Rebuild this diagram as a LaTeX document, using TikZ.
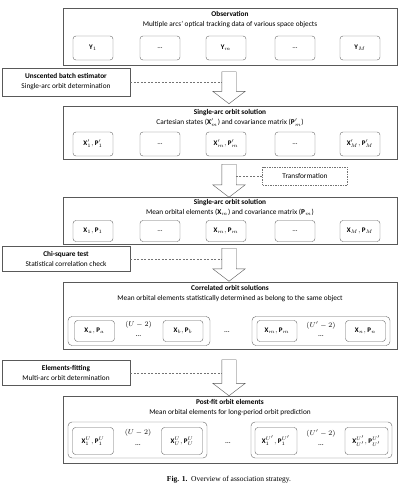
\documentclass[tikz,border=0pt]{standalone}
\usepackage{fontspec}
\setmainfont{Carlito}
\newfontfamily\capfont{Liberation Serif}
\usetikzlibrary{shapes.arrows}

\tikzset{
  panel/.style={draw=black!65, line width=0.7pt, minimum width=334pt, inner sep=0pt},
  head/.style={align=center, anchor=north, inner sep=0pt, font=\fontsize{7.3}{10.5}\selectfont},
  cell/.style={draw=black!60, rounded corners=3pt, minimum width=40pt, minimum height=24pt, inner sep=1pt, font=\fontsize{7}{8}\selectfont},
  group/.style={draw=black!60, rounded corners=4pt, inner sep=0pt},
  side/.style={draw=black!65, line width=0.6pt, align=center, minimum width=128pt, inner sep=1pt, font=\fontsize{7.3}{10}\selectfont},
  bigarrow/.style={single arrow, draw=black!65, fill=white, shape border rotate=270, minimum width=32pt, single arrow head extend=9pt, single arrow tip angle=105, inner xsep=7pt, inner ysep=0pt},
  link/.style={draw=black!55, dash pattern=on 2pt off 1.5pt},
  dashbox/.style={draw=black!55, dash pattern=on 1.5pt off 1pt, minimum width=85pt, minimum height=18pt, font=\fontsize{7.3}{9}\selectfont},
  note/.style={inner sep=0pt, font=\fontsize{7.5}{8}\selectfont}
}

\begin{document}
\begin{tikzpicture}[x=1pt, y=-1pt]
			\useasboundingbox (0,0) rectangle (409,493);
			%%%%% START %%%%%
			
			% observation
			\node[panel, minimum height=57pt] (obs) at (230,37) {};
			\node[head] (obsT) at (230,11) {\textbf{Observation}\\Multiple arcs’ optical tracking data of various space objects};
			\node[cell] (obs1) at (93,48) {$\mathbf{Y}_1$};
			\node[cell] (obs2) at (160,48) {\ldots};
			\node[cell] (obs3) at (226,48) {$\mathbf{Y}_m$};
			\node[cell] (obs4) at (295,48) {\ldots};
			\node[cell] (obs5) at (360,48) {$\mathbf{Y}_M$};
			
			% unscented batch estimator
			\node[side, minimum height=28pt] (ube) at (66,82) {\textbf{Unscented batch estimator}\\Single-arc orbit determination};
			\node[bigarrow, minimum height=32pt] (arr1) at (229,85) {};
			\draw[link] (ube.east) -- (ube.east -| arr1.west);
			
			% cartesian solution
			\node[panel, minimum height=53pt] (sol1) at (230,133) {};
			\node[head] (sol1T) at (230,109) {\textbf{Single-arc orbit solution}\\Cartesian states ($\mathbf{X}'_m$) and covariance matrix ($\mathbf{P}'_m$)};
			\node[cell] (sol11) at (93,144) {$\mathbf{X}'_1, \mathbf{P}'_1$};
			\node[cell] (sol12) at (160,144) {\ldots};
			\node[cell] (sol13) at (226,144) {$\mathbf{X}'_m, \mathbf{P}'_m$};
			\node[cell] (sol14) at (295,144) {\ldots};
			\node[cell] (sol15) at (360,144) {$\mathbf{X}'_M, \mathbf{P}'_M$};
			
			% transformation
			\node[bigarrow, minimum height=33pt] (arr2) at (229,178) {};
			\node[dashbox] (trf) at (305,176) {Transformation};
			\draw[link] (trf.west) -- (trf.west -| arr2.east);
			
			% mean elements solution
			\node[panel, minimum height=47pt] (sol2) at (230,221) {};
			\node[head] (sol2T) at (230,199) {\textbf{Single-arc orbit solution}\\Mean orbital elements ($\mathbf{X}_m$) and covariance matrix ($\mathbf{P}_m$)};
			\node[cell, minimum height=21pt] (sol21) at (93,231) {$\mathbf{X}_1, \mathbf{P}_1$};
			\node[cell, minimum height=21pt] (sol22) at (160,231) {\ldots};
			\node[cell, minimum height=21pt] (sol23) at (226,231) {$\mathbf{X}_m, \mathbf{P}_m$};
			\node[cell, minimum height=21pt] (sol24) at (295,231) {\ldots};
			\node[cell, minimum height=21pt] (sol25) at (360,231) {$\mathbf{X}_M, \mathbf{P}_M$};
			
			% chi-square test
			\node[side, minimum height=25pt] (chi) at (66,259) {\textbf{Chi-square test}\\Statistical correlation check};
			\node[bigarrow, minimum height=33pt] (arr3) at (229,262) {};
			\draw[link] (chi.east) -- (chi.east -| arr3.west);
			
			% correlated solutions
			\node[panel, minimum height=67pt] (cor) at (230,315.5) {};
			\node[head] (corT) at (230,285) {\textbf{Correlated orbit solutions}\\Mean orbital elements statistically determined as belong to the same object};
			\node[group, minimum width=142pt, minimum height=29pt] (corL) at (139,331) {};
			\node[group, minimum width=138pt, minimum height=29pt] (corR) at (321,331) {};
			\node[cell, minimum height=21pt] (cor1) at (94.5,331) {$\mathbf{X}_a, \mathbf{P}_a$};
			\node[cell, minimum height=21pt] (cor2) at (183,331) {$\mathbf{X}_b, \mathbf{P}_b$};
			\node[cell, minimum height=21pt] (cor3) at (277,331) {$\mathbf{X}_m, \mathbf{P}_m$};
			\node[cell, minimum height=21pt] (cor4) at (365.5,331) {$\mathbf{X}_n, \mathbf{P}_n$};
			\node[note] (corU) at (138.5,325) {$(U-2)$};
			\node[note] (corUd) at (138.5,336) {\ldots};
			\node[note] (corV) at (321,325) {$(U'-2)$};
			\node[note] (corVd) at (321,336) {\ldots};
			\node[note] (corD) at (227,332) {\ldots};
			
			% elements-fitting
			\node[side, minimum height=25pt] (fit) at (66,373) {\textbf{Elements-fitting}\\Multi-arc orbit determination};
			\node[bigarrow, minimum height=36pt] (arr4) at (229,375) {};
			\draw[link] (fit.east) -- (fit.east -| arr4.west);
			
			% post-fit elements
			\node[panel, minimum height=67pt] (pf) at (230,429.5) {};
			\node[head] (pfT) at (230,399) {\textbf{Post-fit orbit elements}\\Mean orbital elements for long-period orbit prediction};
			\node[group, minimum width=139pt, minimum height=36pt] (pfL) at (137.5,440) {};
			\node[group, minimum width=141pt, minimum height=36pt] (pfR) at (321.5,440) {};
			\node[cell, minimum width=41pt, minimum height=27pt] (pf1) at (93,441) {$\mathbf{X}_1^U, \mathbf{P}_1^U$};
			\node[cell, minimum width=41pt, minimum height=27pt] (pf2) at (182,441) {$\mathbf{X}_U^U, \mathbf{P}_U^U$};
			\node[cell, minimum width=42pt, minimum height=27pt] (pf3) at (276,441) {$\mathbf{X}_1^{U'}, \mathbf{P}_1^{U'}$};
			\node[cell, minimum width=43pt, minimum height=27pt] (pf4) at (366.5,441) {$\mathbf{X}_{U'}^{U'}, \mathbf{P}_{U'}^{U'}$};
			\node[note] (pfU) at (138,433) {$(U-2)$};
			\node[note] (pfUd) at (138,445) {\ldots};
			\node[note] (pfV) at (321,433) {$(U'-2)$};
			\node[note] (pfVd) at (321,445) {\ldots};
			\node[note] (pfD) at (228,443) {\ldots};
			
			% caption
			\node[inner sep=0pt, font=\capfont\fontsize{7.5}{9}\selectfont] (cap) at (229,480) {\textbf{Fig. 1.}\ \ Overview of association strategy.};
			
			%%%%% END %%%%%
\end{tikzpicture}
\end{document}
